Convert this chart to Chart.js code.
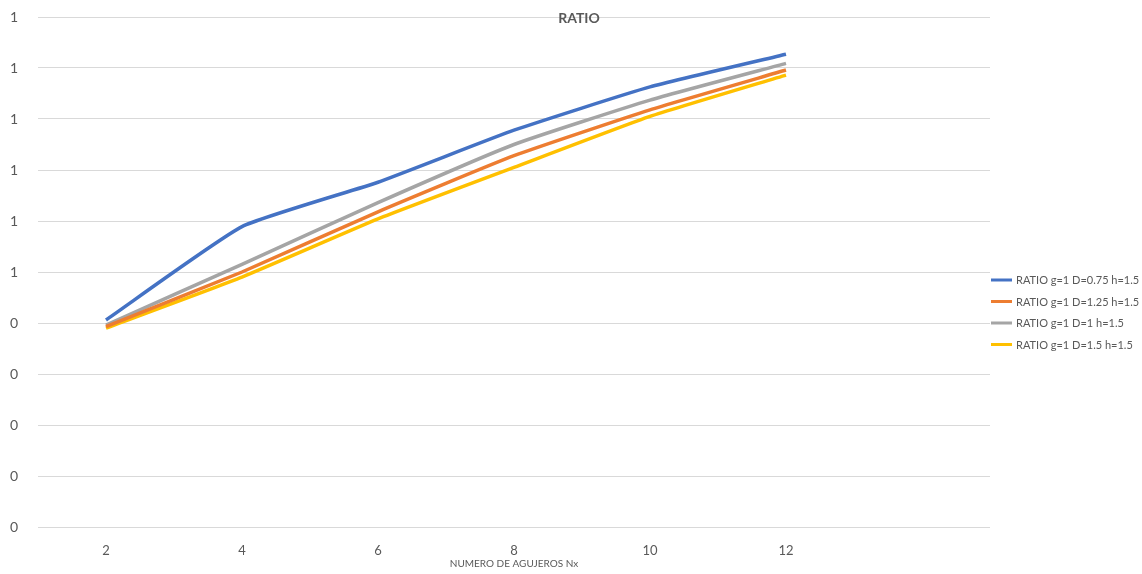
<!DOCTYPE html>
<html>
<head>
<meta charset="utf-8">
<title>RATIO</title>
<script src="https://cdn.jsdelivr.net/npm/chart.js@4.4.1/dist/chart.umd.min.js"></script>
<style>
  html, body { margin: 0; padding: 0; background: #ffffff; }
  #wrap { width: 1142px; height: 574px; position: relative; }
</style>
</head>
<body>
<div id="wrap"><canvas id="chart" width="1142" height="574"></canvas></div>
<script>
// Number of holes along x (last slot is an empty category)
const categories = ['2', '4', '6', '8', '10', '12', ''];

// Ratio series
const ratioD075 = [0.406, 0.589, 0.676, 0.778, 0.863, 0.927];
const ratioD125 = [0.393, 0.500, 0.618, 0.728, 0.818, 0.896];
const ratioD1   = [0.396, 0.515, 0.636, 0.750, 0.837, 0.909];
const ratioD15  = [0.390, 0.490, 0.604, 0.705, 0.805, 0.886];

const seriesNames = [
  'RATIO g=1 D=0.75 h=1.5',
  'RATIO g=1 D=1.25 h=1.5',
  'RATIO g=1 D=1 h=1.5',
  'RATIO g=1 D=1.5 h=1.5'
];

// Y tick labels as displayed (values 0.0 .. 1.0 shown with no decimals)
const yTickLabels = ['0', '0', '0', '0', '0', '1', '1', '1', '1', '1', '1'];

const colors = ['#4472C4', '#ED7D31', '#A5A5A5', '#FFC000'];
const textColor = '#595959';
const fontFamily = 'Lato, "Open Sans", sans-serif';

const seriesData = [ratioD075, ratioD125, ratioD1, ratioD15];

const datasets = seriesData.map((d, i) => ({
  label: seriesNames[i],
  data: d,
  borderColor: colors[i],
  backgroundColor: colors[i],
  borderWidth: 3.5,
  pointRadius: 0,
  tension: 0.15,
  fill: false
}));

// Title drawn over the top of the plot, and a line-sample legend on the right
const overlayPlugin = {
  id: 'overlay',
  afterDraw(chart) {
    const ctx = chart.ctx;
    ctx.save();
    ctx.fillStyle = textColor;
    ctx.font = 'bold 14px ' + fontFamily;
    ctx.textAlign = 'center';
    ctx.textBaseline = 'middle';
    ctx.fillText('RATIO', 579, 18);

    const lx = chart.chartArea.right;
    ctx.font = '11px ' + fontFamily;
    ctx.textAlign = 'left';
    chart.data.datasets.forEach((ds, i) => {
      const y = 280 + i * 21.5;
      ctx.strokeStyle = ds.borderColor;
      ctx.lineWidth = 3;
      ctx.beginPath();
      ctx.moveTo(lx + 1, y);
      ctx.lineTo(lx + 22, y);
      ctx.stroke();
      ctx.fillStyle = textColor;
      ctx.fillText(ds.label, lx + 26, y + 0.5);
    });
    ctx.restore();
  }
};

new Chart(document.getElementById('chart'), {
  type: 'line',
  data: { labels: categories, datasets: datasets },
  options: {
    responsive: false,
    animation: false,
    layout: { padding: { top: 17, right: 152, bottom: 0, left: 0 } },
    plugins: {
      legend: { display: false },
      title: { display: false },
      tooltip: { enabled: false }
    },
    scales: {
      x: {
        offset: true,
        grid: { display: false, drawTicks: false },
        border: { display: false },
        ticks: {
          color: textColor,
          font: { family: fontFamily, size: 13 },
          padding: 16,
          maxRotation: 0,
          autoSkip: false
        },
        title: {
          display: true,
          text: 'NUMERO DE AGUJEROS Nx',
          color: textColor,
          font: { family: fontFamily, size: 10 },
          padding: { top: 0, bottom: 4 }
        },
        afterFit(scale) { scale.height = 47; }
      },
      y: {
        min: 0,
        max: 1,
        grid: { color: '#D9D9D9', lineWidth: 1, drawTicks: false },
        border: { display: false },
        ticks: {
          stepSize: 0.1,
          color: textColor,
          font: { family: fontFamily, size: 14 },
          padding: 20,
          callback: (value, index) => yTickLabels[index]
        },
        afterFit(scale) {
          scale.width = 38;
          scale.paddingTop = 0;
          scale.paddingBottom = 0;
        }
      }
    }
  },
  plugins: [overlayPlugin]
});
</script>
</body>
</html>
